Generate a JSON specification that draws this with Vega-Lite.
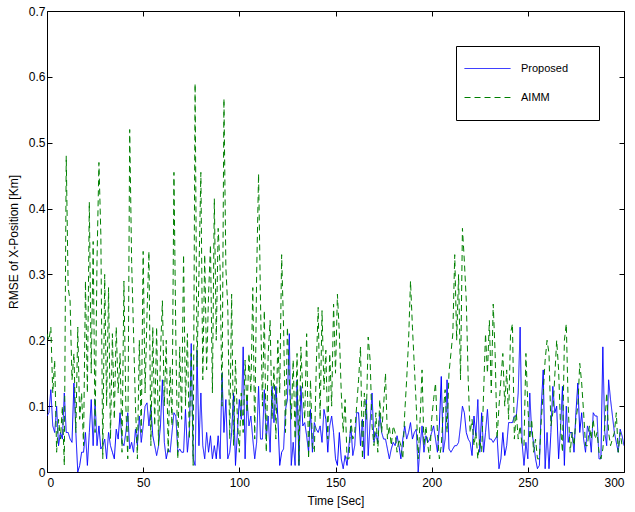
{
  "$schema": "https://vega.github.io/schema/vega-lite/v6.json",
  "autosize": "none",
  "width": 577,
  "height": 461,
  "padding": {"left": 47, "top": 11, "right": 11, "bottom": 40},
  "background": "white",
  "config": {
    "font": "Liberation Sans",
    "view": {"stroke": "black", "strokeWidth": 1},
    "axis": {"grid": false, "labelFont": "Liberation Sans", "titleFont": "Liberation Sans", "labelFontSize": 12, "titleFontSize": 12, "titleFontWeight": "normal", "labelColor": "black", "titleColor": "black", "domainColor": "black", "tickColor": "black", "tickSize": -5}
  },
  "data": {"values": [
{"t":0,"P":0.085,"A":0.21},{"t":1,"P":0.09,"A":0.2},{"t":2,"P":0.125,"A":0.22},{"t":3,"P":0.07,"A":0.12},{"t":4,"P":0.06,"A":0.17},
{"t":5,"P":0.1,"A":0.03},{"t":6,"P":0.04,"A":0.08},{"t":7,"P":0.06,"A":0.05},{"t":8,"P":0.05,"A":0.1},{"t":9,"P":0.12,"A":0.01},
{"t":10,"P":0.06,"A":0.48},{"t":11,"P":0.06,"A":0.28},{"t":12,"P":0.05,"A":0.26},{"t":13,"P":0.045,"A":0.14},{"t":14,"P":0.135,"A":0.18},
{"t":15,"P":0.06,"A":0.06},{"t":16,"P":0.0,"A":0.22},{"t":17,"P":0.01,"A":0.08},{"t":18,"P":0.03,"A":0.12},{"t":19,"P":0.03,"A":0.04},
{"t":20,"P":0.06,"A":0.29},{"t":21,"P":0.01,"A":0.12},{"t":22,"P":0.06,"A":0.41},{"t":23,"P":0.11,"A":0.15},{"t":24,"P":0.04,"A":0.35},
{"t":25,"P":0.11,"A":0.06},{"t":26,"P":0.04,"A":0.32},{"t":27,"P":0.07,"A":0.47},{"t":28,"P":0.035,"A":0.36},{"t":29,"P":0.04,"A":0.02},
{"t":30,"P":0.05,"A":0.3},{"t":31,"P":0.02,"A":0.1},{"t":32,"P":0.06,"A":0.28},{"t":33,"P":0.04,"A":0.05},{"t":34,"P":0.03,"A":0.21},
{"t":35,"P":0.02,"A":0.08},{"t":36,"P":0.065,"A":0.22},{"t":37,"P":0.05,"A":0.12},{"t":38,"P":0.09,"A":0.18},{"t":39,"P":0.045,"A":0.03},
{"t":40,"P":0.04,"A":0.29},{"t":41,"P":0.06,"A":0.1},{"t":42,"P":0.09,"A":0.02},{"t":43,"P":0.035,"A":0.52},{"t":44,"P":0.045,"A":0.32},
{"t":45,"P":0.03,"A":0.21},{"t":46,"P":0.065,"A":0.1},{"t":47,"P":0.04,"A":0.02},{"t":48,"P":0.085,"A":0.2},{"t":49,"P":0.045,"A":0.06},
{"t":50,"P":0.07,"A":0.335},{"t":51,"P":0.1,"A":0.12},{"t":52,"P":0.105,"A":0.24},{"t":53,"P":0.07,"A":0.335},{"t":54,"P":0.1,"A":0.04},
{"t":55,"P":0.055,"A":0.22},{"t":56,"P":0.04,"A":0.07},{"t":57,"P":0.025,"A":0.22},{"t":58,"P":0.04,"A":0.04},{"t":59,"P":0.07,"A":0.18},
{"t":60,"P":0.14,"A":0.26},{"t":61,"P":0.045,"A":0.1},{"t":62,"P":0.02,"A":0.2},{"t":63,"P":0.035,"A":0.03},{"t":64,"P":0.03,"A":0.16},
{"t":65,"P":0.06,"A":0.07},{"t":66,"P":0.09,"A":0.455},{"t":67,"P":0.085,"A":0.2},{"t":68,"P":0.03,"A":0.02},{"t":69,"P":0.035,"A":0.19},
{"t":70,"P":0.03,"A":0.08},{"t":71,"P":0.03,"A":0.33},{"t":72,"P":0.095,"A":0.1},{"t":73,"P":0.03,"A":0.21},{"t":74,"P":0.06,"A":0.05},
{"t":75,"P":0.195,"A":0.18},{"t":76,"P":0.02,"A":0.01},{"t":77,"P":0.01,"A":0.59},{"t":78,"P":0.185,"A":0.16},{"t":79,"P":0.04,"A":0.3},
{"t":80,"P":0.12,"A":0.455},{"t":81,"P":0.04,"A":0.14},{"t":82,"P":0.02,"A":0.33},{"t":83,"P":0.06,"A":0.155},{"t":84,"P":0.03,"A":0.27},
{"t":85,"P":0.055,"A":0.345},{"t":86,"P":0.02,"A":0.12},{"t":87,"P":0.04,"A":0.415},{"t":88,"P":0.02,"A":0.2},{"t":89,"P":0.055,"A":0.37},
{"t":90,"P":0.02,"A":0.31},{"t":91,"P":0.15,"A":0.1},{"t":92,"P":0.06,"A":0.567},{"t":93,"P":0.11,"A":0.31},{"t":94,"P":0.02,"A":0.25},
{"t":95,"P":0.03,"A":0.05},{"t":96,"P":0.06,"A":0.27},{"t":97,"P":0.12,"A":0.04},{"t":98,"P":0.01,"A":0.17},{"t":99,"P":0.06,"A":0.08},
{"t":100,"P":0.11,"A":0.03},{"t":101,"P":0.08,"A":0.12},{"t":102,"P":0.19,"A":0.06},{"t":103,"P":0.02,"A":0.17},{"t":104,"P":0.11,"A":0.09},
{"t":105,"P":0.07,"A":0.18},{"t":106,"P":0.085,"A":0.12},{"t":107,"P":0.05,"A":0.28},{"t":108,"P":0.02,"A":0.05},{"t":109,"P":0.045,"A":0.3},
{"t":110,"P":0.13,"A":0.453},{"t":111,"P":0.05,"A":0.26},{"t":112,"P":0.05,"A":0.1},{"t":113,"P":0.125,"A":0.245},{"t":114,"P":0.05,"A":0.03},
{"t":115,"P":0.085,"A":0.18},{"t":116,"P":0.03,"A":0.23},{"t":117,"P":0.13,"A":0.08},{"t":118,"P":0.075,"A":0.16},{"t":119,"P":0.13,"A":0.05},
{"t":120,"P":0.085,"A":0.2},{"t":121,"P":0.01,"A":0.12},{"t":122,"P":0.03,"A":0.33},{"t":123,"P":0.035,"A":0.22},{"t":124,"P":0.095,"A":0.06},
{"t":125,"P":0.11,"A":0.22},{"t":126,"P":0.21,"A":0.14},{"t":127,"P":0.01,"A":0.08},{"t":128,"P":0.045,"A":0.17},{"t":129,"P":0.01,"A":0.05},
{"t":130,"P":0.14,"A":0.18},{"t":131,"P":0.01,"A":0.01},{"t":132,"P":0.13,"A":0.19},{"t":133,"P":0.07,"A":0.12},{"t":134,"P":0.075,"A":0.08},
{"t":135,"P":0.055,"A":0.21},{"t":136,"P":0.03,"A":0.02},{"t":137,"P":0.095,"A":0.14},{"t":138,"P":0.03,"A":0.04},{"t":139,"P":0.075,"A":0.03},
{"t":140,"P":0.065,"A":0.16},{"t":141,"P":0.06,"A":0.25},{"t":142,"P":0.07,"A":0.08},{"t":143,"P":0.045,"A":0.245},{"t":144,"P":0.095,"A":0.125},
{"t":145,"P":0.08,"A":0.185},{"t":146,"P":0.03,"A":0.05},{"t":147,"P":0.07,"A":0.18},{"t":148,"P":0.085,"A":0.1},{"t":149,"P":0.06,"A":0.255},
{"t":150,"P":0.02,"A":0.15},{"t":151,"P":0.01,"A":0.27},{"t":152,"P":0.06,"A":0.21},{"t":153,"P":0.02,"A":0.12},{"t":154,"P":0.005,"A":0.06},
{"t":155,"P":0.025,"A":0.11},{"t":156,"P":0.01,"A":0.02},{"t":157,"P":0.04,"A":0.02},{"t":158,"P":0.07,"A":0.08},{"t":159,"P":0.025,"A":0.05},
{"t":160,"P":0.04,"A":0.06},{"t":161,"P":0.09,"A":0.1},{"t":162,"P":0.09,"A":0.14},{"t":163,"P":0.04,"A":0.19},{"t":164,"P":0.08,"A":0.02},
{"t":165,"P":0.02,"A":0.12},{"t":166,"P":0.11,"A":0.08},{"t":167,"P":0.025,"A":0.205},{"t":168,"P":0.075,"A":0.17},{"t":169,"P":0.12,"A":0.07},
{"t":170,"P":0.045,"A":0.04},{"t":171,"P":0.06,"A":0.09},{"t":172,"P":0.045,"A":0.03},{"t":173,"P":0.09,"A":0.11},{"t":174,"P":0.06,"A":0.06},
{"t":175,"P":0.05,"A":0.1},{"t":176,"P":0.05,"A":0.15},{"t":177,"P":0.035,"A":0.05},{"t":178,"P":0.02,"A":0.07},{"t":179,"P":0.035,"A":0.04},
{"t":180,"P":0.045,"A":0.07},{"t":181,"P":0.04,"A":0.06},{"t":182,"P":0.055,"A":0.03},{"t":183,"P":0.04,"A":0.05},{"t":184,"P":0.02,"A":0.04},
{"t":185,"P":0.05,"A":0.02},{"t":186,"P":0.07,"A":0.09},{"t":187,"P":0.05,"A":0.14},{"t":188,"P":0.06,"A":0.2},{"t":189,"P":0.075,"A":0.29},
{"t":190,"P":0.05,"A":0.22},{"t":191,"P":0.06,"A":0.16},{"t":192,"P":0.065,"A":0.1},{"t":193,"P":0.0,"A":0.02},{"t":194,"P":0.04,"A":0.08},
{"t":195,"P":0.07,"A":0.155},{"t":196,"P":0.03,"A":0.04},{"t":197,"P":0.055,"A":0.07},{"t":198,"P":0.045,"A":0.04},{"t":199,"P":0.05,"A":0.02},
{"t":200,"P":0.06,"A":0.08},{"t":201,"P":0.07,"A":0.11},{"t":202,"P":0.05,"A":0.135},{"t":203,"P":0.03,"A":0.06},{"t":204,"P":0.07,"A":0.02},
{"t":205,"P":0.145,"A":0.04},{"t":206,"P":0.03,"A":0.09},{"t":207,"P":0.05,"A":0.125},{"t":208,"P":0.14,"A":0.06},{"t":209,"P":0.035,"A":0.15},
{"t":210,"P":0.03,"A":0.18},{"t":211,"P":0.035,"A":0.21},{"t":212,"P":0.04,"A":0.33},{"t":213,"P":0.04,"A":0.2},{"t":214,"P":0.045,"A":0.3},
{"t":215,"P":0.07,"A":0.14},{"t":216,"P":0.1,"A":0.37},{"t":217,"P":0.09,"A":0.32},{"t":218,"P":0.06,"A":0.26},{"t":219,"P":0.05,"A":0.14},
{"t":220,"P":0.045,"A":0.06},{"t":221,"P":0.025,"A":0.08},{"t":222,"P":0.085,"A":0.04},{"t":223,"P":0.055,"A":0.06},{"t":224,"P":0.11,"A":0.02},
{"t":225,"P":0.03,"A":0.05},{"t":226,"P":0.09,"A":0.03},{"t":227,"P":0.03,"A":0.12},{"t":228,"P":0.06,"A":0.21},{"t":229,"P":0.095,"A":0.15},
{"t":230,"P":0.05,"A":0.23},{"t":231,"P":0.05,"A":0.12},{"t":232,"P":0.045,"A":0.255},{"t":233,"P":0.05,"A":0.18},{"t":234,"P":0.055,"A":0.05},
{"t":235,"P":0.005,"A":0.1},{"t":236,"P":0.02,"A":0.14},{"t":237,"P":0.06,"A":0.18},{"t":238,"P":0.025,"A":0.1},{"t":239,"P":0.04,"A":0.155},
{"t":240,"P":0.075,"A":0.08},{"t":241,"P":0.075,"A":0.21},{"t":242,"P":0.075,"A":0.225},{"t":243,"P":0.085,"A":0.05},{"t":244,"P":0.085,"A":0.09},
{"t":245,"P":0.12,"A":0.05},{"t":246,"P":0.22,"A":0.07},{"t":247,"P":0.045,"A":0.04},{"t":248,"P":0.01,"A":0.04},{"t":249,"P":0.045,"A":0.18},
{"t":250,"P":0.02,"A":0.1},{"t":251,"P":0.12,"A":0.05},{"t":252,"P":0.06,"A":0.08},{"t":253,"P":0.045,"A":0.03},{"t":254,"P":0.02,"A":0.05},
{"t":255,"P":0.005,"A":0.02},{"t":256,"P":0.01,"A":0.02},{"t":257,"P":0.1,"A":0.08},{"t":258,"P":0.155,"A":0.12},{"t":259,"P":0.005,"A":0.17},
{"t":260,"P":0.06,"A":0.2},{"t":261,"P":0.005,"A":0.18},{"t":262,"P":0.06,"A":0.07},{"t":263,"P":0.13,"A":0.09},{"t":264,"P":0.09,"A":0.145},
{"t":265,"P":0.1,"A":0.2},{"t":266,"P":0.02,"A":0.155},{"t":267,"P":0.065,"A":0.07},{"t":268,"P":0.13,"A":0.03},{"t":269,"P":0.01,"A":0.2},
{"t":270,"P":0.1,"A":0.225},{"t":271,"P":0.045,"A":0.1},{"t":272,"P":0.06,"A":0.03},{"t":273,"P":0.06,"A":0.06},{"t":274,"P":0.03,"A":0.04},
{"t":275,"P":0.09,"A":0.08},{"t":276,"P":0.135,"A":0.1},{"t":277,"P":0.06,"A":0.165},{"t":278,"P":0.09,"A":0.135},{"t":279,"P":0.05,"A":0.09},
{"t":280,"P":0.03,"A":0.04},{"t":281,"P":0.07,"A":0.04},{"t":282,"P":0.06,"A":0.07},{"t":283,"P":0.03,"A":0.05},{"t":284,"P":0.09,"A":0.08},
{"t":285,"P":0.085,"A":0.05},{"t":286,"P":0.085,"A":0.06},{"t":287,"P":0.02,"A":0.03},{"t":288,"P":0.02,"A":0.02},{"t":289,"P":0.19,"A":0.035},
{"t":290,"P":0.06,"A":0.07},{"t":291,"P":0.04,"A":0.12},{"t":292,"P":0.14,"A":0.06},{"t":293,"P":0.11,"A":0.04},{"t":294,"P":0.085,"A":0.05},
{"t":295,"P":0.06,"A":0.06},{"t":296,"P":0.045,"A":0.09},{"t":297,"P":0.03,"A":0.03},{"t":298,"P":0.065,"A":0.06},{"t":299,"P":0.055,"A":0.04},
{"t":300,"P":0.04,"A":0.04}
  ]},
  "transform": [
    {"fold": ["P", "A"], "as": ["key", "v"]},
    {"calculate": "datum.key === 'P' ? 'Proposed' : 'AIMM'", "as": "series"}
  ],
  "layer": [
    {
      "mark": {"type": "line", "strokeWidth": 1, "clip": true},
      "encoding": {
        "x": {"field": "t", "type": "quantitative", "scale": {"domain": [0, 300], "nice": false}, "axis": {"values": [0, 50, 100, 150, 200, 250, 300], "title": "Time [Sec]", "labelPadding": 10, "titlePadding": 7, "domain": false}},
        "y": {"field": "v", "type": "quantitative", "scale": {"domain": [0, 0.7], "nice": false}, "axis": {"values": [0, 0.1, 0.2, 0.3, 0.4, 0.5, 0.6, 0.7], "format": "~g", "title": "RMSE of X-Position [Km]", "labelPadding": 7, "titlePadding": 8, "domain": false}},
        "color": {"field": "series", "type": "nominal", "scale": {"domain": ["Proposed", "AIMM"], "range": ["#0000ff", "#008000"]},
          "legend": {"orient": "none", "legendX": 409, "legendY": 35, "title": "\u00a0", "titleOrient": "bottom", "titleFontSize": 6, "titlePadding": 3, "strokeColor": "black", "fillColor": "white", "padding": 8, "symbolType": "M-1.64,0H1.64M7.25,0", "symbolSize": 784, "symbolOffset": 9, "symbolStrokeWidth": 1, "symbolFillColor": "transparent", "labelFont": "Liberation Sans", "labelFontSize": 11, "labelColor": "black", "rowPadding": 9, "labelOffset": 19,
            "encode": {"symbols": {"update": {"strokeDash": {"signal": "datum.value === 'AIMM' ? [6, 4] : [1, 0]"}, "fill": {"value": "transparent"}}}}}},
        "strokeDash": {"field": "series", "type": "nominal", "scale": {"domain": ["Proposed", "AIMM"], "range": [[1, 0], [6, 4]]}, "legend": null},
        "order": {"field": "t", "type": "quantitative"}
      }
    },
    {
      "mark": {"type": "line", "strokeWidth": 0, "opacity": 0},
      "encoding": {
        "x": {"field": "t", "type": "quantitative", "axis": {"orient": "top", "values": [0, 50, 100, 150, 200, 250, 300], "labels": false, "title": null, "domain": false}},
        "y": {"field": "v", "type": "quantitative", "axis": {"orient": "right", "values": [0, 0.1, 0.2, 0.3, 0.4, 0.5, 0.6, 0.7], "labels": false, "title": null, "domain": false}},
        "detail": {"field": "series"}
      }
    }
  ],
  "resolve": {"axis": {"x": "independent", "y": "independent"}}
}
